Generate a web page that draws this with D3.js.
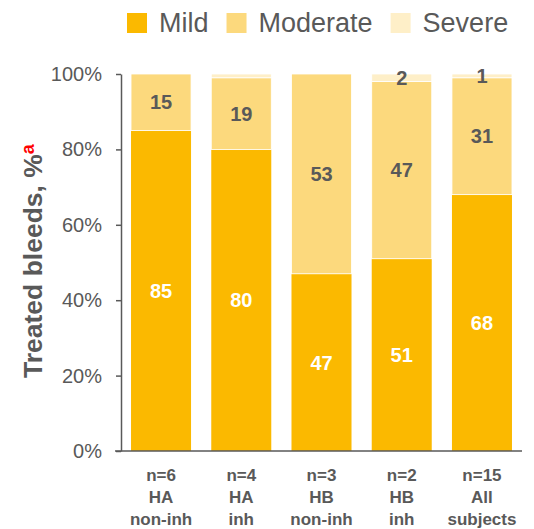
<!DOCTYPE html>
<html>
<head>
<meta charset="utf-8">
<script src="https://cdn.jsdelivr.net/npm/d3@7"></script>
<style>
  html, body { margin: 0; padding: 0; background: #ffffff; }
  svg { display: block; font-family: "Liberation Sans", Arial, sans-serif; }
</style>
</head>
<body>
<svg id="chart" width="534" height="529"></svg>
<script>
// Treated bleeds by severity, per subject group (percent of bleeds)
const groups = ["HA non-inh", "HA inh", "HB non-inh", "HB inh", "All subjects"];
const groupLines = [
  ["n=6", "HA", "non-inh"],
  ["n=4", "HA", "inh"],
  ["n=3", "HB", "non-inh"],
  ["n=2", "HB", "inh"],
  ["n=15", "All", "subjects"]
];
const mild = [85, 80, 47, 51, 68];
const moderate = [15, 19, 53, 47, 31];
const severe = [0, 1, 0, 2, 1];
const severeLabelShown = [false, false, false, true, true];
const seriesNames = ["Mild", "Moderate", "Severe"];
const seriesColors = ["#fbb900", "#fcd97d", "#feefc8"];
const yTicks = [0, 20, 40, 60, 80, 100];

const svg = d3.select("#chart");
const grey = "#595959";

const x = d3.scaleBand()
  .domain(groups)
  .range([121, 522])
  .paddingInner(0.252)
  .paddingOuter(0.125);

const y = d3.scaleLinear().domain([0, 100]).range([451, 74]);

// stacked rows
const rows = groups.map((g, i) => ({
  group: g, Mild: mild[i], Moderate: moderate[i], Severe: severe[i], idx: i
}));
const stack = d3.stack().keys(seriesNames)(rows);

const color = d3.scaleOrdinal().domain(seriesNames).range(seriesColors);

const layers = svg.append("g").selectAll("g")
  .data(stack)
  .join("g")
  .attr("fill", d => color(d.key));

layers.selectAll("rect")
  .data(d => d.map(s => Object.assign(s, { key: d.key })))
  .join("rect")
  .attr("x", d => x(d.data.group))
  .attr("width", x.bandwidth())
  .attr("y", d => y(d[1]))
  .attr("height", d => y(d[0]) - y(d[1]))
  .attr("stroke", d => d.key === "Mild" ? "none" : "#ffffff")
  .attr("stroke-width", 0.8);

// value labels
const labels = [];
stack.forEach(layer => {
  layer.forEach(s => {
    const v = s[1] - s[0];
    const i = s.data.idx;
    if (v <= 0) return;
    if (layer.key === "Severe" && !severeLabelShown[i]) return;
    labels.push({
      key: layer.key, value: v, group: s.data.group,
      mid: (s[0] + s[1]) / 2
    });
  });
});

svg.append("g").selectAll("text")
  .data(labels)
  .join("text")
  .attr("x", d => x(d.group) + x.bandwidth() / 2)
  .attr("y", d => y(d.mid))
  .attr("dy", "0.36em")
  .attr("text-anchor", "middle")
  .attr("font-size", 20)
  .attr("font-weight", "bold")
  .attr("fill", d => d.key === "Mild" ? "#ffffff" : grey)
  .text(d => d.value);

// y axis
const yAxis = svg.append("g")
  .attr("transform", "translate(121,0)")
  .call(d3.axisLeft(y).tickValues(yTicks).tickFormat(d => d + "%").tickSize(5).tickPadding(14).tickSizeOuter(0));
yAxis.select(".domain").attr("stroke", grey).attr("stroke-width", 1.5);
yAxis.selectAll(".tick line").attr("stroke", grey).attr("stroke-width", 1.5);
yAxis.selectAll(".tick text")
  .attr("fill", grey)
  .attr("font-size", 20)
  .attr("font-family", "'Liberation Sans', Arial, sans-serif");

// x baseline
svg.append("line")
  .attr("x1", 115).attr("x2", 522)
  .attr("y1", y(0)).attr("y2", y(0))
  .attr("stroke", grey).attr("stroke-width", 1.5);

// category labels
const cat = svg.append("g").selectAll("text")
  .data(groups)
  .join("text")
  .attr("text-anchor", "middle")
  .attr("font-size", 17)
  .attr("font-weight", "bold")
  .attr("fill", grey);
cat.each(function(g, i) {
  const t = d3.select(this);
  groupLines[i].forEach((line, k) => {
    t.append("tspan")
      .attr("x", x(g) + x.bandwidth() / 2)
      .attr("y", 481 + k * 22)
      .text(line);
  });
});

// y axis title with red footnote marker
const title = svg.append("text")
  .attr("transform", "translate(42,378) rotate(-90)")
  .attr("font-size", 26.5)
  .attr("font-weight", "bold")
  .attr("fill", grey);
title.append("tspan").text("Treated bleeds, %");
title.append("tspan")
  .attr("dy", -8.5)
  .attr("font-size", 18)
  .attr("fill", "#ff0000")
  .text("a");

// legend
const legend = svg.append("g");
let lx = 127;
seriesNames.forEach((name, i) => {
  legend.append("rect")
    .attr("x", lx).attr("y", 13)
    .attr("width", 20).attr("height", 20)
    .attr("fill", seriesColors[i]);
  const t = legend.append("text")
    .attr("x", lx + 32).attr("y", 32)
    .attr("font-size", 27)
    .attr("fill", grey)
    .text(name);
  lx += 32 + t.node().getComputedTextLength() + 18;
});
</script>
</body>
</html>
